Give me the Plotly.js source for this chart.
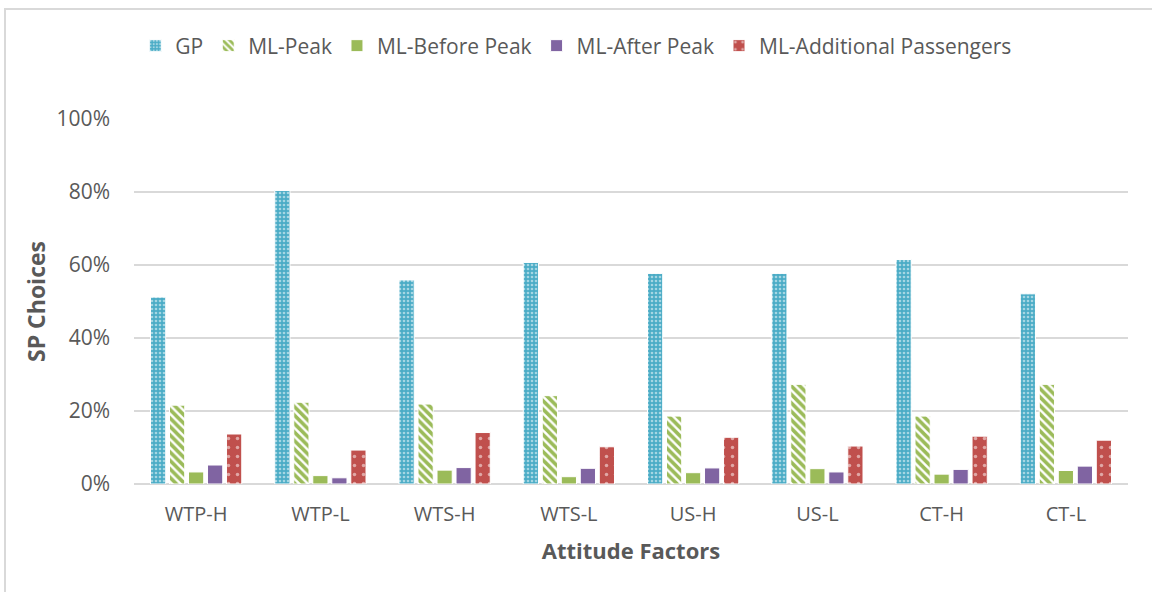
<!DOCTYPE html>
<html>
<head>
<meta charset="utf-8">
<script src="https://cdn.plot.ly/plotly-3.0.1.min.js"></script>
<style>
  html, body { margin: 0; padding: 0; background: #ffffff; }
  #wrap { position: relative; width: 1152px; height: 592px; overflow: hidden; }
  #chart { width: 1152px; height: 592px; }
  #frame { position: absolute; left: 4px; top: 8px; right: -10px; bottom: -10px;
           border-left: 2px solid #d9d9d9; border-top: 2px solid #d9d9d9; pointer-events: none; }
</style>
</head>
<body>
<div id="wrap">
  <div id="chart"></div>
  <div id="frame"></div>
</div>
<script>
const categories = ["WTP-H", "WTP-L", "WTS-H", "WTS-L", "US-H", "US-L", "CT-H", "CT-L"];
const seriesNames = ["GP", "ML-Peak", "ML-Before Peak", "ML-After Peak", "ML-Additional Passengers"];
const gp        = [0.512, 0.804, 0.559, 0.607, 0.577, 0.577, 0.615, 0.521];
const mlPeak    = [0.216, 0.224, 0.219, 0.242, 0.186, 0.273, 0.186, 0.273];
const mlBefore  = [0.033, 0.023, 0.038, 0.020, 0.031, 0.042, 0.027, 0.037];
const mlAfter   = [0.052, 0.017, 0.045, 0.043, 0.044, 0.033, 0.040, 0.049];
const mlAddPass = [0.137, 0.093, 0.141, 0.102, 0.128, 0.104, 0.131, 0.120];
const yTicks = [0, 0.2, 0.4, 0.6, 0.8, 1.0];

const textColor = "#595959";
const fontFam = "'Open Sans', 'Noto Sans', sans-serif";

function bar(name, y, color, pattern) {
  const t = {
    type: "bar", name: name, x: categories, y: y,
    marker: { color: color, line: { color: "#ffffff", width: 1 } }
  };
  if (pattern) t.marker.pattern = pattern;
  return t;
}

const data = [
  bar(seriesNames[0], gp, "#4bacc6", { shape: ".", fgcolor: "#ffffff", size: 4, solidity: 0.35, fillmode: "overlay" }),
  bar(seriesNames[1], mlPeak, "#ffffff", { shape: "\\", fgcolor: "#9bbb59", bgcolor: "#ffffff", size: 6, solidity: 0.6, fillmode: "replace" }),
  bar(seriesNames[2], mlBefore, "#9bbb59"),
  bar(seriesNames[3], mlAfter, "#8064a2"),
  bar(seriesNames[4], mlAddPass, "#c0504d", { shape: ".", fgcolor: "#ffffff", size: 9, solidity: 0.12, fillmode: "overlay" })
];

const layout = {
  width: 1152, height: 592,
  margin: { l: 134, r: 24, t: 119, b: 108, pad: 0 },
  paper_bgcolor: "#ffffff", plot_bgcolor: "#ffffff",
  font: { family: fontFam, size: 20, color: textColor },
  barmode: "group",
  bargap: 0.235,
  bargroupgap: 0.2,
  showlegend: true,
  legend: {
    orientation: "h", x: 0.445, xanchor: "center", y: 1.2, yanchor: "middle",
    font: { family: fontFam, size: 21, color: textColor },
    itemwidth: 30, traceorder: "normal"
  },
  xaxis: {
    type: "category",
    showgrid: false, showline: false, zeroline: false,
    ticks: "", ticklabelstandoff: 16,
    tickfont: { family: fontFam, size: 20, color: textColor },
    title: { text: "<b>Attitude Factors</b>", font: { family: fontFam, size: 22, color: textColor }, standoff: 17 }
  },
  yaxis: {
    range: [0, 1], tickvals: yTicks, tickformat: ".0%",
    showgrid: true, gridcolor: "#d9d9d9", gridwidth: 2,
    zeroline: true, zerolinecolor: "#d9d9d9", zerolinewidth: 2,
    showline: false, ticks: "", ticklen: 0, ticklabelstandoff: 23,
    tickfont: { family: fontFam, size: 21, color: textColor },
    title: { text: "<b>SP Choices</b>", font: { family: fontFam, size: 23, color: textColor }, standoff: 4 }
  }
};

Plotly.newPlot("chart", data, layout, { displayModeBar: false, staticPlot: true });
</script>
</body>
</html>
